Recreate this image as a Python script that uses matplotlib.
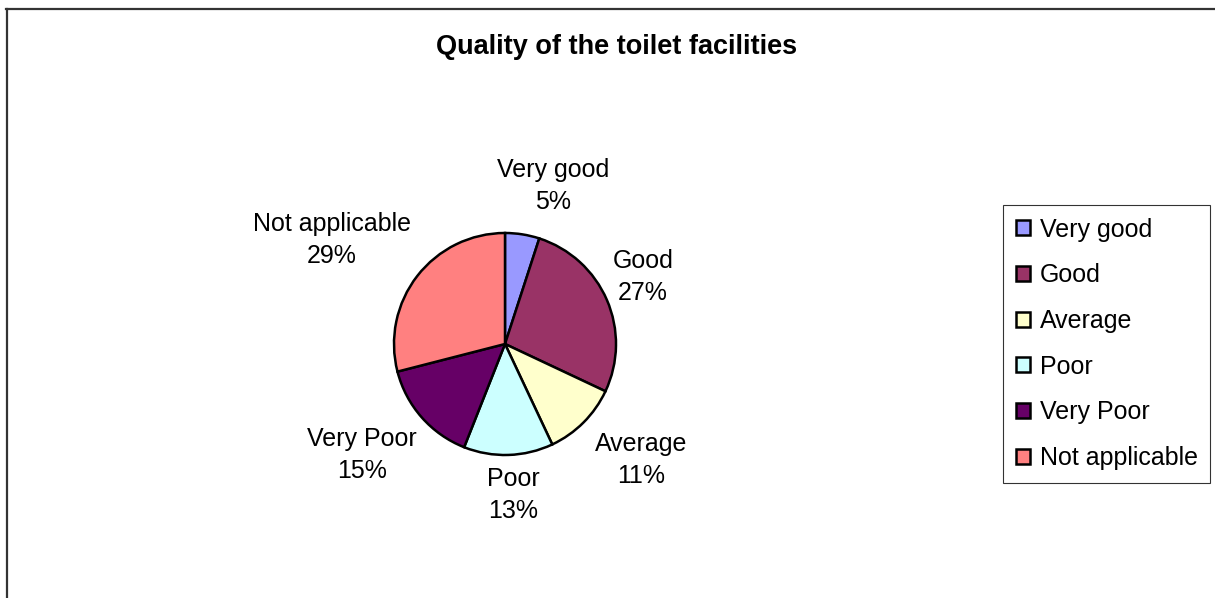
import matplotlib.pyplot as plt
from matplotlib.lines import Line2D

plt.rcParams['font.family'] = ['Liberation Sans', 'DejaVu Sans']

categories = ['Very good', 'Good', 'Average', 'Poor', 'Very Poor', 'Not applicable']
shares = [5, 27, 11, 13, 15, 29]
colors = ['#9999FF', '#993366', '#FFFFCC', '#CCFFFF', '#660066', '#FF8080']

# label block centres, in pixels from the top-left corner
label_pos = [(553, 186), (643, 277), (641, 460), (513, 495), (362, 455), (332, 240)]

W, H = 1215, 598
fig = plt.figure(figsize=(W / 100, H / 100), dpi=100)
ax = fig.add_axes([0, 0, 1, 1])

wedges, _ = ax.pie(shares, colors=colors, startangle=90, counterclock=False,
                   center=(505, H - 344), radius=111,
                   wedgeprops=dict(edgecolor='black', linewidth=1.8))

for name, val, (px, py) in zip(categories, shares, label_pos):
    ax.text(px, H - py, f'{name}\n{val}%', ha='center', va='center',
            fontsize=18, linespacing=1.4)

ax.set_xlim(0, W)
ax.set_ylim(0, H)
ax.set_aspect('auto')
ax.axis('off')

ax.text(617, H - 47, 'Quality of the toilet facilities', ha='center', va='center',
        fontsize=19.5, fontweight='bold')

leg = ax.legend(wedges, categories, loc='upper right',
                bbox_to_anchor=(1210, H - 205), bbox_transform=ax.transData,
                borderaxespad=0, fontsize=18, frameon=True, fancybox=False,
                edgecolor='black', handlelength=0.55, handleheight=0.55,
                handletextpad=0.4, labelspacing=0.87, borderpad=0.5)
leg.get_frame().set_linewidth(0.8)

# outer chart border (top and left edges)
ax.add_line(Line2D([6, W], [H - 8.5, H - 8.5], color='#333333', linewidth=1.6))
ax.add_line(Line2D([6.5, 6.5], [0, H - 8.5], color='#333333', linewidth=1.6))

fig.savefig('out.png', dpi=100)
